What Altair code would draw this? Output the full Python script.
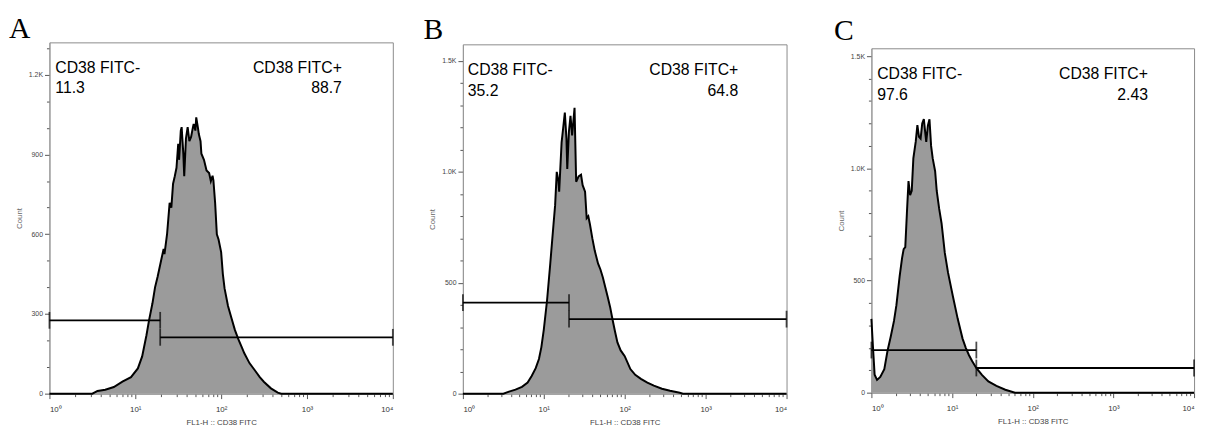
import altair as alt
import pandas as pd

# ---------------- data ----------------
LETTERS = ["A", "B", "C"]
X_TITLE = "FL1-H :: CD38 FITC"
Y_TITLE = "Count"
NEG_NAME = "CD38 FITC-"
POS_NAME = "CD38 FITC+"
NEG_PCT = ["11.3", "35.2", "97.6"]
POS_PCT = ["88.7", "64.8", "2.43"]

# histogram outlines: log10(FL1-H) positions and counts
A_LOG = [0.00, 0.50, 0.56, 0.65, 0.75, 0.85, 0.95, 1.03, 1.08, 1.13, 1.16, 1.20, 1.23, 1.26,
         1.30, 1.33, 1.34, 1.37, 1.40, 1.42, 1.44, 1.46, 1.48, 1.50, 1.51, 1.53, 1.54, 1.56,
         1.57, 1.59, 1.61, 1.63, 1.65, 1.67, 1.68, 1.70, 1.71, 1.73, 1.74, 1.76, 1.77, 1.80,
         1.83, 1.86, 1.88, 1.90, 1.91, 1.93, 1.95, 1.97, 2.00, 2.02, 2.04, 2.08, 2.12, 2.16,
         2.20, 2.24, 2.27, 2.33, 2.39, 2.45, 2.50, 2.58, 2.66, 2.70, 4.00]
A_CNT = [0, 0, 10, 15, 25, 45, 62, 95, 140, 220, 276, 340, 400, 440,
         500, 545, 525, 600, 718, 700, 790, 818, 850, 940, 880, 990, 1003, 900,
         818, 960, 1003, 950, 966, 1000, 1015, 990, 1040, 1000, 977, 950, 903, 880,
         840, 830, 800, 820, 803, 718, 600, 580, 533, 450, 396, 330, 285, 240,
         205, 175, 152, 115, 89, 62, 44, 20, 4, 0, 0]

B_LOG = [0.00, 0.50, 0.57, 0.65, 0.73, 0.80, 0.85, 0.90, 0.94, 0.97, 1.00, 1.04, 1.08, 1.12,
         1.14, 1.16, 1.18, 1.19, 1.22, 1.24, 1.26, 1.28, 1.29, 1.31, 1.33, 1.35, 1.38, 1.40,
         1.43, 1.46, 1.48, 1.51, 1.53, 1.55, 1.57, 1.60, 1.63, 1.67, 1.70, 1.73, 1.76, 1.79,
         1.82, 1.85, 1.88, 1.91, 1.95, 2.00, 2.07, 2.13, 2.20, 2.28, 2.36, 2.46, 2.56, 2.68,
         2.72, 4.00]
B_CNT = [0, 0, 9, 18, 31, 50, 80, 115, 156, 210, 289, 420, 587, 764,
         850, 1000, 960, 911, 1133, 1200, 1267, 1150, 1013, 1180, 1253, 1164, 1289, 955,
         980, 987, 940, 911, 791, 800, 764, 700, 644, 587, 560, 524, 480, 436,
         390, 333, 280, 231, 195, 169, 111, 85, 67, 50, 36, 22, 13, 4,
         0, 0]

C_LOG = [0.00, 0.02, 0.04, 0.07, 0.11, 0.16, 0.20, 0.24, 0.28, 0.31, 0.35, 0.38, 0.40, 0.42,
         0.44, 0.46, 0.48, 0.50, 0.52, 0.55, 0.57, 0.59, 0.61, 0.63, 0.65, 0.67, 0.68, 0.70,
         0.72, 0.74, 0.76, 0.79, 0.81, 0.84, 0.87, 0.91, 0.95, 1.01, 1.07, 1.13, 1.17, 1.21,
         1.25, 1.30, 1.37, 1.45, 1.55, 1.66, 1.78, 4.00]
C_CNT = [329, 200, 80, 57, 70, 105, 187, 250, 320, 390, 518, 600, 640, 649,
         800, 943, 880, 900, 1044, 1120, 1193, 1140, 1132, 1200, 1219, 1150, 1118, 1190,
         1219, 1100, 1044, 987, 899, 820, 754, 623, 535, 430, 329, 241, 200, 167,
         140, 110, 79, 50, 30, 13, 0, 0]

# gates: negative gate [1, cut] and positive gate [cut, 10^4]
GATE_CUT = [19.5, 20.5, 20.0]
GATE_NEG_Y = [276, 410, 190]
GATE_POS_Y = [212, 336, 110]

# annotation anchors (data units)
LBL_LEFT_X = [1.17, 1.15, 1.18]
LBL_RIGHT_X = [2547, 2530, 2680]
LBL_NAME_Y = [1207, 1436, 1399]
LBL_PCT_Y = [1130, 1342, 1303]

Y_MAX = [1322, 1575, 1535]
Y_LABEL_STEP = [300, 500, 500]
X_MAJOR = [1, 10, 100, 1000, 10000]
X_MINOR = [m * d for d in [1, 10, 100, 1000] for m in range(2, 10)]

# ---------------- layout ----------------
WIDTHS = [348, 328, 327]
HEIGHTS = [356, 354, 349]
TOP_GAP = [1, 4, 9]          # extra space above each plot frame
TITLE_DX = [-6, -5, -3]

LOGS = [A_LOG, B_LOG, C_LOG]
CNTS = [A_CNT, B_CNT, C_CNT]

GREY = "#555555"


def panel(i):
    hist = pd.DataFrame({"fl1": [10 ** v for v in LOGS[i]], "count": CNTS[i]})
    cut = GATE_CUT[i]
    gates = pd.DataFrame({
        "fl1": [1, cut],
        "fl1_end": [cut, 10000],
        "count": [GATE_NEG_Y[i], GATE_POS_Y[i]],
    })
    bars = pd.DataFrame({
        "fl1": [1, cut, cut, 10000],
        "count": [GATE_NEG_Y[i], GATE_NEG_Y[i], GATE_POS_Y[i], GATE_POS_Y[i]],
    })
    left_lbl = pd.DataFrame({
        "fl1": [LBL_LEFT_X[i], LBL_LEFT_X[i]],
        "count": [LBL_NAME_Y[i], LBL_PCT_Y[i]],
        "txt": [NEG_NAME, NEG_PCT[i]],
    })
    right_lbl = pd.DataFrame({
        "fl1": [LBL_RIGHT_X[i], LBL_RIGHT_X[i]],
        "count": [LBL_NAME_Y[i], LBL_PCT_Y[i]],
        "txt": [POS_NAME, POS_PCT[i]],
    })

    step = Y_LABEL_STEP[i]
    y_vals = list(range(0, Y_MAX[i], 100))
    x_axis = alt.Axis(
        values=sorted(X_MAJOR + X_MINOR),
        labelExpr=("datum.value == 1 ? '10⁰' : datum.value == 10 ? '10¹' : "
                   "datum.value == 100 ? '10²' : datum.value == 1000 ? '10³' : "
                   "datum.value == 10000 ? '10⁴' : ''"),
        labelOverlap=False,
        labelFlush=True,
        labelFontSize=8,
        labelColor="#333333",
        labelPadding=7,
        tickSize={"condition": {"test": "indexof([1,10,100,1000,10000], datum.value) >= 0",
                                "value": 5}, "value": 3},
        tickColor=GREY,
        domainColor="#999999",
        grid=False,
        title=X_TITLE,
        titleFontSize=8,
        titleFontWeight="normal",
        titleColor="#444444",
        titlePadding=5,
    )
    y_axis = alt.Axis(
        values=y_vals,
        labelExpr=(f"datum.value % {step} == 0 ? (datum.value >= 1000 ? "
                   "format(datum.value / 1000, '.1f') + 'K' : '' + datum.value) : ''"),
        labelOverlap=False,
        labelFontSize=7,
        labelColor="#444444",
        labelPadding=2,
        tickSize={"condition": {"test": f"datum.value % {step} == 0", "value": 5},
                  "value": 3},
        tickColor=GREY,
        domainColor="#999999",
        grid=False,
        title=Y_TITLE,
        titleFontSize=8,
        titleFontWeight="normal",
        titleColor="#666666",
        titlePadding=5,
    )
    xs = alt.Scale(type="log", domain=[1, 10000], nice=False)
    ys = alt.Scale(domain=[0, Y_MAX[i]], nice=False)
    x_enc = alt.X("fl1:Q", scale=xs, axis=x_axis)
    y_enc = alt.Y("count:Q", scale=ys, axis=y_axis)

    area = alt.Chart(hist).mark_area(color="#9b9b9b", opacity=1, interpolate="linear").encode(
        x=x_enc, y=y_enc)
    line = alt.Chart(hist).mark_line(color="black", strokeWidth=2, interpolate="linear").encode(
        x=x_enc, y=y_enc)
    gate = alt.Chart(gates).mark_rule(color="black", strokeWidth=1.8).encode(
        x=x_enc, x2="fl1_end:Q", y=y_enc)
    bar = alt.Chart(bars).mark_tick(color="black", orient="vertical", size=17, thickness=1.8).encode(
        x=x_enc, y=y_enc)
    tl = alt.Chart(left_lbl).mark_text(align="left", baseline="alphabetic", fontSize=16,
                                       font="Liberation Sans", color="black").encode(
        x=x_enc, y=y_enc, text="txt:N")
    tr = alt.Chart(right_lbl).mark_text(align="right", baseline="alphabetic", fontSize=16,
                                        font="Liberation Sans", color="black").encode(
        x=x_enc, y=y_enc, text="txt:N")

    plot = alt.layer(area, line, gate, bar, tl, tr).properties(
        width=WIDTHS[i], height=HEIGHTS[i],
        view=alt.ViewBackground(stroke="#8a8a8a", strokeWidth=1),
    )
    spacer = alt.Chart(pd.DataFrame({"v": [0]})).mark_point(opacity=0).properties(
        width=10, height=TOP_GAP[i],
        view=alt.ViewBackground(stroke="transparent"),
    )
    return alt.vconcat(spacer, plot, spacing=0).properties(
        title=alt.TitleParams(
            LETTERS[i], anchor="start", dx=TITLE_DX[i], offset=-9,
            font="Liberation Serif", fontSize=30, fontWeight="normal", color="black",
        )
    )


chart = alt.hconcat(
    alt.hconcat(panel(0), panel(1), spacing=26),
    panel(2),
    spacing=43,
).properties(padding={"left": 1, "top": 3, "right": 0, "bottom": 0}).configure(
    font="Liberation Sans")

chart.save("out.html", embed_options={"renderer": "svg", "actions": False})
